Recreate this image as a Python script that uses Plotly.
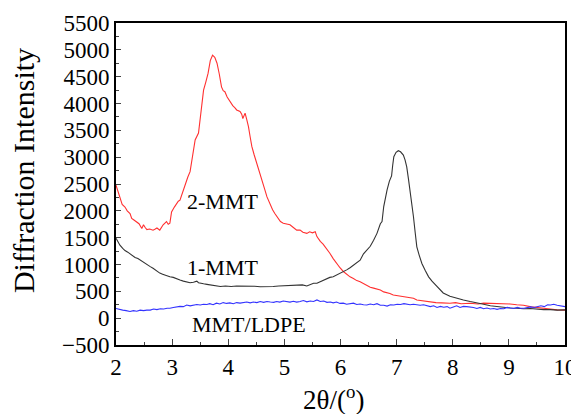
import plotly.graph_objects as go

# 2-MMT (red)
x_2mmt = [2.00, 2.04, 2.07, 2.11, 2.16, 2.20, 2.25, 2.28, 2.32, 2.37, 2.41, 2.46, 2.49, 2.52, 2.55,
          2.60, 2.66, 2.70, 2.73, 2.78, 2.81, 2.84, 2.90, 2.93, 2.96, 2.99, 3.04, 3.08, 3.11, 3.14,
          3.17, 3.20, 3.23, 3.28, 3.32, 3.36, 3.41, 3.47, 3.51, 3.56, 3.60, 3.64, 3.68, 3.72, 3.76,
          3.80, 3.84, 3.88, 3.91, 3.94, 3.98, 4.03, 4.08, 4.12, 4.15, 4.21, 4.24, 4.26, 4.30, 4.33,
          4.36, 4.39, 4.42, 4.46, 4.51, 4.55, 4.60, 4.65, 4.69, 4.74, 4.79, 4.83, 4.88, 4.93, 4.98,
          5.03, 5.10, 5.16, 5.22, 5.28, 5.33, 5.40, 5.45, 5.50, 5.55, 5.58, 5.64, 5.69, 5.73, 5.77,
          5.81, 5.87, 5.93, 5.99, 6.05, 6.11, 6.17, 6.23, 6.29, 6.35, 6.41, 6.47, 6.53, 6.59, 6.65,
          6.71, 6.77, 6.83, 6.88, 6.94, 7.00, 7.06, 7.12, 7.18, 7.24, 7.30, 7.36, 7.42, 7.48, 7.54,
          7.60, 7.70, 7.80, 7.95, 8.05, 8.15, 8.31, 8.45, 8.55, 8.67, 8.80, 8.90, 9.02, 9.14, 9.26,
          9.40, 9.56, 9.70, 9.86, 10.00]
y_2mmt = [2480, 2330, 2230, 2120, 2070, 2000, 1950, 1860, 1830, 1800, 1760, 1670, 1740, 1690, 1650,
          1660, 1640, 1660, 1680, 1640, 1690, 1740, 1800, 1750, 1770, 1980, 2070, 2140, 2180, 2200,
          2300, 2400, 2510, 2630, 2730, 3000, 3320, 3450, 3800, 4250, 4400, 4560, 4800, 4900, 4860,
          4750, 4550, 4310, 4240, 4220, 4120, 4030, 3960, 3920, 3880, 3850, 3800, 3720, 3820, 3700,
          3570, 3380, 3200, 3050, 2890, 2760, 2570, 2400, 2260, 2130, 2020, 1950, 1870, 1800, 1770,
          1760, 1740, 1690, 1640, 1640, 1600, 1580, 1610, 1590, 1610, 1520, 1430, 1380, 1330, 1270,
          1210, 1110, 1020, 940, 870, 820, 770, 740, 700, 680, 640, 600, 575, 560, 540,
          525, 490, 480, 460, 430, 420, 400, 390, 380, 370, 370, 340, 330, 320, 310,
          300, 290, 285, 277, 290, 270, 277, 265, 280, 277, 260, 270, 265, 250, 240,
          210, 185, 175, 155, 150]

# 1-MMT (black)
x_1mmt = [2.00, 2.04, 2.07, 2.12, 2.16, 2.21, 2.25, 2.30, 2.34, 2.39, 2.43, 2.48, 2.52, 2.57, 2.61,
          2.66, 2.70, 2.74, 2.78, 2.83, 2.87, 2.92, 2.96, 3.02, 3.08, 3.14, 3.20, 3.26, 3.32, 3.38,
          3.44, 3.47, 3.50, 3.56, 3.62, 3.68, 3.74, 3.80, 3.86, 3.95, 4.05, 4.15, 4.27, 4.37, 4.47,
          4.57, 4.63, 4.70, 4.80, 4.90, 5.00, 5.08, 5.16, 5.24, 5.32, 5.40, 5.46, 5.52, 5.58, 5.64,
          5.70, 5.76, 5.81, 5.87, 5.93, 5.99, 6.05, 6.11, 6.17, 6.23, 6.29, 6.35, 6.41, 6.47, 6.53,
          6.59, 6.65, 6.71, 6.74, 6.77, 6.80, 6.83, 6.87, 6.91, 6.93, 6.95, 6.99, 7.03, 7.07, 7.12,
          7.15, 7.18, 7.21, 7.24, 7.27, 7.30, 7.33, 7.36, 7.40, 7.45, 7.51, 7.57, 7.63, 7.72, 7.83,
          7.95, 8.07, 8.19, 8.31, 8.43, 8.55, 8.67, 8.79, 8.90, 9.02, 9.14, 9.26, 9.38, 9.50, 9.62,
          9.74, 9.86, 10.00]
y_1mmt = [1490, 1420, 1360, 1300, 1260, 1230, 1200, 1170, 1130, 1110, 1080, 1050, 1020, 990, 960,
          930, 900, 870, 840, 820, 800, 790, 770, 760, 730, 710, 690, 680, 660, 670,
          690, 660, 650, 640, 630, 620, 620, 600, 590, 600, 590, 600, 600, 590, 595,
          585, 585, 595, 590, 600, 605, 610, 620, 615, 620, 600, 630, 650, 650, 680,
          700, 740, 760, 770, 800, 830, 860, 900, 940, 990, 1030, 1080, 1200, 1270, 1340,
          1450, 1580, 1760, 1800, 2080, 2250, 2390, 2550, 2650, 2850, 3010, 3090, 3120, 3100, 3040,
          2950, 2820, 2600, 2390, 2150, 1890, 1600, 1330, 1180, 1020, 890, 770, 690, 590, 470,
          410, 370, 340, 310, 290, 260, 230, 215, 200, 190, 185, 175, 180, 165, 160,
          160, 150, 155]

# MMT/LDPE (blue)
x_ldpe = [2.00, 2.06, 2.12, 2.18, 2.25, 2.31, 2.37, 2.43, 2.49, 2.55, 2.61, 2.67, 2.73, 2.79, 2.85,
          2.91, 2.96, 3.02, 3.08, 3.14, 3.20, 3.26, 3.32, 3.38, 3.44, 3.50, 3.56, 3.62, 3.67, 3.73,
          3.79, 3.85, 3.91, 3.97, 4.03, 4.09, 4.15, 4.21, 4.27, 4.33, 4.39, 4.45, 4.51, 4.57, 4.63,
          4.69, 4.75, 4.81, 4.86, 4.92, 4.98, 5.04, 5.10, 5.16, 5.22, 5.28, 5.34, 5.40, 5.46, 5.52,
          5.58, 5.64, 5.70, 5.76, 5.82, 5.87, 5.93, 5.99, 6.05, 6.11, 6.17, 6.23, 6.29, 6.35, 6.41,
          6.47, 6.53, 6.59, 6.65, 6.71, 6.77, 6.83, 6.89, 6.95, 7.01, 7.07, 7.13, 7.18, 7.24, 7.30,
          7.36, 7.42, 7.48, 7.54, 7.60, 7.66, 7.72, 7.78, 7.84, 7.90, 7.95, 8.01, 8.07, 8.13, 8.19,
          8.25, 8.31, 8.37, 8.43, 8.49, 8.55, 8.61, 8.67, 8.73, 8.79, 8.85, 8.91, 8.97, 9.03, 9.09,
          9.15, 9.21, 9.27, 9.33, 9.39, 9.45, 9.51, 9.57, 9.63, 9.69, 9.74, 9.80, 9.86, 9.92, 10.00]
y_ldpe = [180, 160, 150, 140, 125, 140, 130, 150, 140, 150, 150, 170, 160, 175, 170,
          185, 185, 200, 210, 220, 215, 245, 230, 240, 255, 245, 260, 255, 270, 250,
          280, 265, 290, 275, 285, 270, 290, 280, 290, 300, 285, 300, 290, 310, 295,
          310, 300, 295, 310, 300, 320, 305, 300, 315, 300, 310, 330, 305, 320, 310,
          340, 310, 320, 295, 300, 285, 300, 275, 280, 260, 265, 280, 255, 265, 250,
          245, 265, 250, 270, 240, 240, 225, 250, 245, 260, 255, 270, 265, 250, 260,
          245, 240, 250, 230, 215, 230, 200, 220, 205, 215, 185, 210, 230, 200, 220,
          215, 214, 200, 180, 200, 175, 190, 170, 180, 165, 180, 175, 200, 190, 180,
          200, 185, 185, 200, 210, 200, 220, 230, 215, 250, 245, 260, 240, 230, 215]

labels = ["2-MMT", "1-MMT", "MMT/LDPE"]
label_x = [3.89, 3.89, 4.37]
label_y = [2183, 935, -127]

x_ticks = [2, 3, 4, 5, 6, 7, 8, 9, 10]
y_ticks = [-500, 0, 500, 1000, 1500, 2000, 2500, 3000, 3500, 4000, 4500, 5000, 5500]

x_title = "2θ/(<sup>o</sup>)"
y_title = "Diffraction Intensity"

FONT = "Liberation Serif"

fig = go.Figure()
fig.add_trace(go.Scatter(x=x_2mmt, y=y_2mmt, mode="lines", line=dict(color="#ff3030", width=1.1)))
fig.add_trace(go.Scatter(x=x_1mmt, y=y_1mmt, mode="lines", line=dict(color="#333333", width=1.1)))
fig.add_trace(go.Scatter(x=x_ldpe, y=y_ldpe, mode="lines", line=dict(color="#3333ff", width=1.1)))

for t, xx, yy in zip(labels, label_x, label_y):
    fig.add_annotation(x=xx, y=yy, text=t, showarrow=False,
                       font=dict(family=FONT, size=22, color="black"))

# axis titles
fig.add_annotation(xref="paper", yref="paper", x=0.485, y=0, yshift=-53,
                   xanchor="center", yanchor="middle", showarrow=False,
                   text=x_title, font=dict(family=FONT, size=27, color="black"))
fig.add_annotation(xref="paper", yref="paper", x=0, xshift=-93, y=0.54,
                   xanchor="center", yanchor="middle", showarrow=False, textangle=-90,
                   text=y_title, font=dict(family=FONT, size=30, color="black"))

# the page body adds an 8px offset, so the figure is sized to end at the window edge
fig.update_layout(
    width=571, height=406,
    margin=dict(l=108, r=14, t=15, b=69),
    paper_bgcolor="white", plot_bgcolor="white",
    showlegend=False,
    font=dict(family=FONT, color="black"),
)
fig.update_xaxes(
    range=[2, 10], tickvals=x_ticks, ticks="inside", ticklen=6, tickwidth=1.2,
    minor=dict(ticks="inside", ticklen=3, dtick=0.5, tickwidth=1.2),
    showline=True, linewidth=2, linecolor="black", mirror=True, showgrid=False, zeroline=False,
    tickfont=dict(family=FONT, size=23), automargin=False,
)
fig.update_yaxes(
    range=[-500, 5500], tickvals=y_ticks, ticks="inside", ticklen=5, tickwidth=1.2,
    minor=dict(ticks="inside", ticklen=3, dtick=250, tickwidth=1.2),
    showline=True, linewidth=2, linecolor="black", mirror=True, showgrid=False, zeroline=False,
    tickfont=dict(family=FONT, size=23), automargin=False,
)

fig.write_html("out.html")
